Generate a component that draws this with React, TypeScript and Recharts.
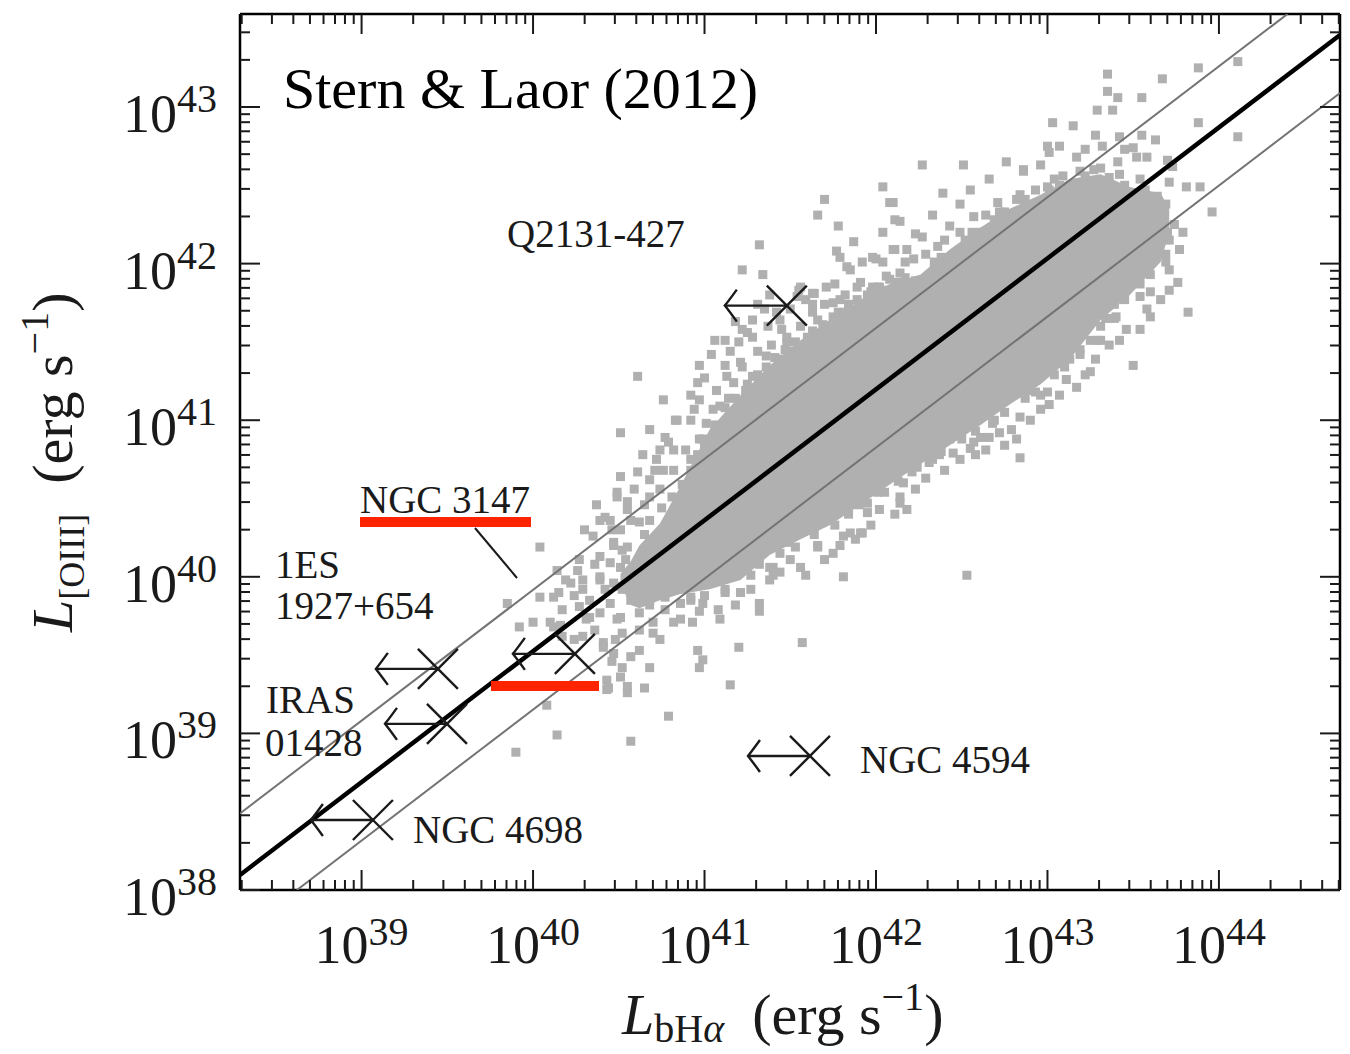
import React from 'react';
import { ComposedChart, XAxis, YAxis, Scatter, Line, Area } from 'recharts';

const W = 1350;
const H = 1054;
const PLOT = { left: 240, top: 14, right: 1340, bottom: 890 };
const INK = '#1a1a1a';
const DOT = '#b0b0b0';
const RED = '#ff2400';
const SERIF = "'Liberation Serif', 'Times New Roman', serif";

// log10 of luminance (erg/s)
const xDomain: [number, number] = [38.291, 44.706];
const yDomain: [number, number] = [38.0, 43.594];
const xDecades = [38, 39, 40, 41, 42, 43, 44];
const yDecades = [38, 39, 40, 41, 42, 43];
const minorSteps = [2, 3, 4, 5, 6, 7, 8, 9];

const withMinors = (decades: number[], dom: [number, number]) =>
  decades
    .flatMap((d) => [d, ...minorSteps.map((m) => d + Math.log10(m))])
    .filter((v) => v >= dom[0] - 1e-9 && v <= dom[1] + 1e-9);

const xTicks = withMinors(xDecades, xDomain);
const yTicks = withMinors(yDecades, yDomain);

// fit lines
const bestFit = [
  { x: 38.291, y: 38.096 },
  { x: 44.706, y: 43.46 },
];
const upperBound = [
  { x: 38.291, y: 38.489 },
  { x: 44.4, y: 43.594 },
];
const lowerBound = [
  { x: 38.623, y: 38.0 },
  { x: 44.706, y: 43.089 },
];

// dense, saturated part of the sample: [x, low y, high y]
const coreRows: [number, number, number][] = [
  [40.51, 39.95, 40.02],
  [40.57, 39.82, 40.1],
  [40.62, 39.8, 40.2],
  [40.74, 39.85, 40.34],
  [40.86, 39.89, 40.58],
  [41.03, 39.92, 40.94],
  [41.21, 39.98, 41.16],
  [41.38, 40.14, 41.35],
  [41.56, 40.24, 41.51],
  [41.73, 40.33, 41.64],
  [41.91, 40.46, 41.77],
  [42.08, 40.59, 41.87],
  [42.26, 40.72, 41.93],
  [42.43, 40.84, 42.09],
  [42.61, 40.97, 42.23],
  [42.78, 41.1, 42.35],
  [42.96, 41.23, 42.44],
  [43.13, 41.39, 42.54],
  [43.31, 41.64, 42.57],
  [43.48, 41.8, 42.49],
  [43.66, 42.01, 42.45],
  [43.71, 42.2, 42.35],
];

// individual objects around the dense core
const cloudPoints: [number, number][] = [
  [40.51, 40.92], [40.77, 40.89], [40.64, 40.78], [40.72, 40.75], [40.51, 40.64], [40.61, 40.67], [40.68, 40.62],
  [40.37, 40.46], [40.49, 40.54], [40.55, 40.48], [40.42, 40.38], [40.35, 40.26], [40.47, 40.22], [40.39, 40.13],
  [40.52, 40.17], [40.62, 40.35], [40.68, 40.51], [40.76, 40.68], [40.82, 40.81], [40.04, 40.19], [40.26, 40.04],
  [40.15, 39.9], [40.39, 40.0], [40.49, 39.94], [40.45, 39.83], [40.57, 39.85], [40.17, 39.79], [40.12, 39.68],
  [40.33, 39.74], [40.51, 39.74], [40.62, 39.77], [40.7, 39.71], [40.52, 39.64], [40.7, 39.64], [40.41, 39.55],
  [40.62, 39.53], [40.46, 39.46], [40.57, 39.49], [40.68, 39.42], [40.51, 39.36], [40.44, 39.29], [40.55, 39.26],
  [40.65, 39.29], [40.08, 39.18], [40.79, 39.11], [40.14, 38.99], [40.57, 38.95], [41.15, 39.31], [41.2, 39.55],
  [40.96, 39.53], [40.99, 39.47], [40.97, 39.42], [40.82, 39.71], [40.93, 39.71], [41.09, 39.73], [40.99, 39.83],
  [40.86, 39.83], [41.12, 39.9], [41.21, 39.9], [41.32, 39.83], [41.32, 39.78], [41.4, 40.06], [41.4, 40.01],
  [41.57, 39.58], [41.66, 40.2], [41.75, 40.15],
  [39.85, 39.83], [39.9, 38.88], [39.92, 39.68], [40.0, 39.71], [40.1, 39.71], [40.17, 39.62], [40.29, 39.62],
  [40.41, 39.58], [40.47, 39.51], [40.52, 39.42], [40.43, 39.34], [40.55, 39.3], [40.43, 39.28], [40.04, 39.87],
  [40.12, 39.87], [40.27, 39.81], [40.31, 39.73], [40.39, 39.77], [40.49, 39.73], [40.39, 39.98], [40.47, 39.96],
  [40.52, 39.92], [40.29, 39.98], [40.22, 39.96], [40.51, 40.06], [40.45, 40.09], [40.55, 40.19], [40.47, 40.2],
  [40.51, 40.3], [40.55, 40.43], [40.49, 40.51], [40.45, 40.36], [40.29, 39.92], [40.14, 40.04],
  [41.06, 41.51], [41.15, 41.44], [41.0, 41.27], [41.22, 41.34], [41.31, 41.44], [41.25, 41.56], [41.37, 41.6],
  [41.42, 41.69], [41.48, 41.53], [41.56, 41.6], [41.62, 41.47], [41.55, 41.83], [41.64, 41.81], [41.71, 41.85],
  [41.79, 41.77], [41.89, 41.85], [42.01, 41.85], [41.75, 41.66], [41.07, 41.19], [41.17, 41.24], [41.28, 41.28],
  [41.09, 41.09], [41.21, 41.07], [41.01, 40.98], [41.13, 40.94], [41.03, 40.86], [41.36, 41.34], [41.46, 41.39],
  [41.52, 41.26], [41.42, 41.21], [41.32, 41.15], [41.25, 40.96],
  [42.14, 40.51], [42.18, 40.43], [41.91, 40.28], [41.81, 40.26], [41.66, 40.19], [41.56, 40.06], [41.44, 40.03],
  [41.38, 40.06], [41.81, 40.0], [42.53, 40.01], [42.06, 40.62], [42.24, 40.7], [42.33, 40.75], [42.45, 40.79],
  [42.57, 40.86], [42.66, 40.89], [41.95, 40.41], [41.71, 40.41], [41.62, 40.32], [41.48, 40.22], [41.32, 40.13],
  [41.25, 40.06],
  [42.27, 42.63], [42.51, 42.63], [42.76, 42.65], [42.04, 42.49], [42.39, 42.45], [42.55, 42.47], [42.66, 42.54],
  [42.86, 42.59], [42.1, 42.39], [42.33, 42.31], [42.14, 42.27], [42.04, 42.2], [41.87, 42.14], [42.27, 42.17],
  [42.1, 42.09], [42.18, 42.09], [41.92, 42.01], [42.0, 42.03], [42.36, 42.11], [42.43, 42.24], [42.57, 42.3],
  [42.71, 42.39], [42.82, 42.41], [43.0, 42.49], [43.09, 42.56], [43.01, 42.71], [43.17, 42.68], [43.27, 42.6],
  [43.41, 42.65], [43.52, 42.68], [41.85, 41.96], [41.91, 41.88], [42.06, 41.92], [41.89, 41.77], [42.01, 41.79],
  [42.49, 42.09], [42.61, 42.2], [42.66, 42.09], [42.22, 42.03], [42.36, 41.98], [42.14, 41.94],
  [43.5, 41.35], [43.25, 41.31], [43.17, 41.21], [43.11, 41.26], [43.01, 41.37], [43.19, 41.45], [43.29, 41.51],
  [43.46, 41.58], [43.4, 41.66], [43.54, 41.79], [43.58, 41.71], [42.96, 41.07], [42.84, 41.02], [42.72, 40.92],
  [42.61, 40.89], [42.82, 40.88], [42.9, 41.19], [43.0, 41.18], [43.06, 41.47], [43.13, 41.39],
  [43.35, 43.21], [43.67, 43.18], [43.35, 43.1], [43.41, 43.06], [43.55, 43.06], [43.29, 42.98], [43.38, 42.98],
  [43.88, 43.25], [44.11, 43.29], [43.03, 42.9], [43.15, 42.88], [43.28, 42.82], [43.42, 42.81], [43.55, 42.82],
  [43.63, 42.79], [43.88, 42.9], [44.11, 42.81], [43.0, 42.75], [43.07, 42.75], [43.32, 42.75], [43.45, 42.73],
  [43.5, 42.74], [42.86, 42.6], [43.58, 42.68], [43.7, 42.66], [43.73, 42.62], [43.71, 42.52], [43.62, 42.41],
  [43.81, 42.49], [43.89, 42.49], [43.96, 42.33], [43.79, 42.2], [43.7, 42.2], [43.64, 42.09], [43.77, 42.09],
  [43.69, 42.01], [43.76, 41.88], [43.6, 41.82], [43.82, 41.69], [43.31, 41.6], [42.97, 41.53], [43.13, 41.5],
  [43.71, 41.96], [43.42, 41.78], [43.39, 41.65], [43.31, 41.51],
  [42.96, 41.16], [42.84, 40.76], [42.68, 40.98], [42.55, 40.82], [42.43, 40.88], [42.37, 40.78], [42.31, 40.76],
  [42.22, 40.75], [42.14, 40.73], [42.16, 40.6], [42.01, 40.54], [41.95, 40.56], [41.89, 40.51], [41.9, 40.46],
  [42.14, 40.47], [41.92, 40.28], [41.85, 40.28],
  [41.7, 42.41], [41.66, 42.31], [41.78, 42.24], [41.77, 42.08], [41.79, 42.04], [41.83, 41.98], [41.98, 42.04],
  [42.04, 42.01], [42.11, 42.09], [41.32, 42.12], [41.22, 41.96], [41.34, 41.93], [41.56, 41.85], [41.63, 41.81],
  [41.76, 41.87], [41.98, 41.85], [42.08, 41.9], [42.08, 42.39], [42.11, 42.28], [40.61, 41.28], [40.96, 41.24],
  [41.31, 41.74], [41.22, 41.58], [41.28, 41.53], [41.44, 41.64], [41.54, 41.79], [41.63, 41.69], [41.75, 41.75],
  [41.83, 41.69], [41.92, 41.73], [42.02, 41.71], [41.36, 41.41], [41.48, 41.5], [41.6, 41.53], [41.21, 41.37],
  [41.13, 41.28],
  [40.76, 41.13], [40.84, 41.0], [40.68, 40.94], [40.94, 41.07], [40.79, 40.86], [40.92, 40.75], [40.97, 40.88],
  // upper-left fringe
  [41.04, 41.42], [41.12, 41.35], [41.2, 41.5], [41.28, 41.64], [41.35, 41.71], [41.39, 41.48], [41.5, 41.71],
  [41.59, 41.77], [41.66, 41.64], [41.7, 41.74], [41.82, 41.8], [41.95, 41.8], [42.05, 41.83], [42.13, 41.88],
  [41.14, 41.14], [41.05, 41.07], [41.24, 41.19], [41.32, 41.26], [41.43, 41.32], [41.51, 41.44], [41.6, 41.37],
  [41.69, 41.48], [41.79, 41.58], [41.88, 41.64], [40.97, 41.13], [40.92, 41.0], [41.0, 40.84], [40.89, 40.81],
  [40.82, 40.68], [40.74, 40.56],
  [41.18, 41.63], [41.38, 41.8], [41.45, 41.58], [41.63, 41.74], [41.12, 41.51], [40.97, 41.35], [40.92, 41.16],
  [40.83, 41.0], [40.74, 40.81],
  [40.68, 40.36], [40.75, 40.44], [40.81, 40.51], [40.87, 40.59], [40.71, 40.24], [40.79, 40.31], [40.86, 40.4],
  [40.93, 40.49], [40.65, 40.14], [40.74, 40.11], [40.83, 40.2], [40.92, 40.3], [40.97, 40.43], [40.96, 40.59],
  [41.02, 40.68],
  // lower-right fringe
  [41.38, 39.98], [41.5, 40.11], [41.59, 40.01], [41.7, 40.11], [41.79, 40.2], [41.88, 40.24], [41.97, 40.33],
  [42.02, 40.43], [42.11, 40.4], [42.23, 40.56], [42.29, 40.63], [42.4, 40.68], [42.49, 40.75], [42.58, 40.78],
  [42.64, 40.81], [42.75, 40.84], [42.79, 40.94], [42.9, 41.0], [43.01, 41.1], [43.07, 41.16], [43.22, 41.29],
  [43.28, 41.39], [43.36, 41.48], [43.42, 41.51], [43.54, 41.58], [43.6, 41.66], [43.66, 41.77], [43.71, 41.83],
  [41.27, 39.92], [41.18, 39.82], [41.08, 39.79], [40.97, 39.78], [40.92, 39.85],
  // low-luminosity tail
  [40.3, 40.3], [40.39, 40.36], [40.46, 40.3], [40.57, 40.36], [40.65, 40.27], [40.74, 40.2], [40.36, 40.08],
  [40.27, 40.11], [40.19, 39.98], [40.24, 39.88], [40.33, 39.85], [40.42, 39.92], [40.59, 39.95], [40.68, 39.85],
  [40.77, 39.79], [40.86, 39.73], [40.16, 39.69], [40.24, 39.6], [40.36, 39.66], [40.48, 39.6], [40.62, 39.66],
  [40.74, 39.6], [40.54, 40.11], [40.65, 40.46], [40.59, 40.56], [40.71, 40.68],
  // upper edge of the core
  [42.17, 42.01], [42.29, 42.06], [42.4, 42.15], [42.49, 42.2], [42.64, 42.31], [42.72, 42.33], [42.84, 42.44],
  [42.93, 42.47], [43.04, 42.54], [43.19, 42.59], [43.31, 42.61], [43.42, 42.57], [43.54, 42.54], [42.23, 42.19],
  [42.49, 42.38], [42.96, 42.63], [43.22, 42.73],
  [40.92, 40.68], [40.96, 40.78], [40.99, 40.88], [41.06, 40.97], [41.12, 41.08], [41.18, 41.14], [41.25, 41.23],
  [41.31, 41.29], [41.41, 41.4], [41.47, 41.45], [41.53, 41.5], [41.63, 41.57], [41.69, 41.61], [41.78, 41.69],
  [41.84, 41.74], [41.97, 41.82], [42.02, 41.85], [42.17, 41.91], [42.23, 41.89], [42.34, 42.01], [42.38, 42.04],
  [42.52, 42.15], [42.56, 42.2], [42.69, 42.28], [42.75, 42.33], [42.87, 42.41], [43.01, 42.47], [43.07, 42.5],
  [43.22, 42.56], [43.36, 42.55], [43.45, 42.5], [43.57, 42.47], [43.64, 42.43],
  // lower edge of the core
  [40.68, 39.82], [40.77, 39.87], [40.92, 39.87], [41.0, 39.88], [41.12, 39.92], [41.27, 40.01], [41.32, 40.08],
  [41.44, 40.15], [41.53, 40.19], [41.64, 40.27], [41.76, 40.33], [41.84, 40.4], [41.95, 40.47], [42.05, 40.54],
  [42.13, 40.61], [42.21, 40.67], [42.31, 40.73], [42.38, 40.8], [42.5, 40.88], [42.58, 40.93], [42.69, 41.0],
  [42.75, 41.05], [42.87, 41.14], [42.93, 41.18], [43.04, 41.29], [43.1, 41.34], [43.19, 41.42], [43.25, 41.51],
  [43.34, 41.65], [43.39, 41.74], [43.45, 41.77], [43.54, 41.87], [43.6, 41.93], [43.69, 42.06], [43.71, 42.15],
  [43.74, 42.25], [43.69, 42.38],
];

// objects with upper limits on the broad Halpha line
const upperLimits = [
  { name: 'Q2131-427', x: 41.48, y: 41.732 },
  { name: '1ES 1927+654', x: 39.445, y: 39.412 },
  { name: 'IRAS 01428', x: 39.498, y: 39.061 },
  { name: 'NGC 3147', x: 40.244, y: 39.508 },
  { name: 'NGC 4698', x: 39.066, y: 38.447 },
  { name: 'NGC 4594', x: 41.615, y: 38.856 },
];

const coreBand = coreRows.map(([x, lo, hi]) => ({ x, band: [lo, hi] }));
const cloud = cloudPoints.map(([x, y]) => ({ x, y }));

const isMajor = (v: number) => Math.abs(v - Math.round(v)) < 1e-6;

const BottomTick = (p: any) => {
  const v = p.payload.value;
  const major = isMajor(v);
  return (
    <g>
      <line x1={p.x} x2={p.x} y1={PLOT.bottom} y2={PLOT.bottom - (major ? 20 : 10)} stroke={INK} strokeWidth={2} />
      {major && (
        <text x={p.x} y={PLOT.bottom + 73} textAnchor="middle" fontFamily={SERIF} fill={INK}>
          <tspan fontSize={54}>10</tspan>
          <tspan fontSize={40} dy={-18}>{Math.round(v)}</tspan>
        </text>
      )}
    </g>
  );
};

const TopTick = (p: any) => {
  const major = isMajor(p.payload.value);
  return (
    <line x1={p.x} x2={p.x} y1={PLOT.top} y2={PLOT.top + (major ? 20 : 10)} stroke={INK} strokeWidth={2} />
  );
};

const LeftTick = (p: any) => {
  const v = p.payload.value;
  const major = isMajor(v);
  return (
    <g>
      <line x1={PLOT.left} x2={PLOT.left + (major ? 20 : 10)} y1={p.y} y2={p.y} stroke={INK} strokeWidth={2} />
      {major && (
        <text x={PLOT.left - 23} y={p.y + 25} textAnchor="end" fontFamily={SERIF} fill={INK}>
          <tspan fontSize={54}>10</tspan>
          <tspan fontSize={40} dy={-20}>{Math.round(v)}</tspan>
        </text>
      )}
    </g>
  );
};

const RightTick = (p: any) => {
  const major = isMajor(p.payload.value);
  return (
    <line x1={PLOT.right} x2={PLOT.right - (major ? 20 : 10)} y1={p.y} y2={p.y} stroke={INK} strokeWidth={2} />
  );
};

const Square = (p: any) => <rect x={p.cx - 4.5} y={p.cy - 4.5} width={9} height={9} fill={DOT} />;

const LimitMarker = (p: any) => {
  const { cx, cy } = p;
  const a = 20;
  const tx = cx - 62;
  return (
    <g stroke={INK} strokeWidth={2.4} fill="none">
      <line x1={cx - a} y1={cy - a} x2={cx + a} y2={cy + a} />
      <line x1={cx - a} y1={cy + a} x2={cx + a} y2={cy - a} />
      <line x1={tx} y1={cy} x2={cx} y2={cy} />
      <path d={`M${tx + 12},${cy - 16} Q${tx + 4},${cy - 5} ${tx},${cy} Q${tx + 4},${cy + 5} ${tx + 12},${cy + 16}`} />
    </g>
  );
};

const axisLine = { stroke: '#000', strokeWidth: 2.5 };

export default function App() {
  return (
    <div style={{ position: 'relative', width: W, height: H, background: '#fff' }}>
      <style>{'body{margin:0;background:#fff}'}</style>
      <ComposedChart
        width={W}
        height={H}
        margin={{ top: PLOT.top - 1, right: W - PLOT.right - 1, bottom: H - PLOT.bottom - 1, left: PLOT.left - 1 }}
      >
        <XAxis xAxisId={0} type="number" dataKey="x" orientation="bottom" domain={xDomain} allowDataOverflow
          ticks={xTicks} interval={0} height={1} tickLine={false} tickSize={0} tick={BottomTick} axisLine={axisLine} />
        <XAxis xAxisId="top" type="number" dataKey="x" orientation="top" domain={xDomain} allowDataOverflow
          ticks={xTicks} interval={0} height={1} tickLine={false} tickSize={0} tick={TopTick} axisLine={axisLine} />
        <YAxis yAxisId={0} type="number" dataKey="y" orientation="left" domain={yDomain} allowDataOverflow
          ticks={yTicks} interval={0} width={1} tickLine={false} tickSize={0} tick={LeftTick} axisLine={axisLine} />
        <YAxis yAxisId="right" type="number" dataKey="y" orientation="right" domain={yDomain} allowDataOverflow
          ticks={yTicks} interval={0} width={1} tickLine={false} tickSize={0} tick={RightTick} axisLine={axisLine} />

        <Area data={coreBand} dataKey="band" type="linear" stroke="none" fill={DOT} fillOpacity={1}
          isAnimationActive={false} zIndex={100} />
        <Scatter data={cloud} shape={Square} isAnimationActive={false} zIndex={150} />
        <Line data={upperBound} dataKey="y" type="linear" stroke="#737373" strokeWidth={2} dot={false}
          activeDot={false} isAnimationActive={false} zIndex={700} />
        <Line data={lowerBound} dataKey="y" type="linear" stroke="#737373" strokeWidth={2} dot={false}
          activeDot={false} isAnimationActive={false} zIndex={700} />
        <Line data={bestFit} dataKey="y" type="linear" stroke="#000" strokeWidth={4.5} dot={false}
          activeDot={false} isAnimationActive={false} zIndex={710} />
        <Scatter data={upperLimits} shape={LimitMarker} isAnimationActive={false} zIndex={800} />
      </ComposedChart>

      <svg width={W} height={H} style={{ position: 'absolute', left: 0, top: 0, pointerEvents: 'none' }}
        fontFamily={SERIF}>
        <text x={283} y={108} fontSize={58} fill="#000">{'Stern & Laor (2012)'}</text>
        <g fill={INK} fontSize={39}>
          <text x={507} y={247}>Q2131-427</text>
          <text x={360} y={513}>NGC 3147</text>
          <text x={275} y={578}>1ES</text>
          <text x={275} y={619}>1927+654</text>
          <text x={266} y={713}>IRAS</text>
          <text x={265} y={756}>01428</text>
          <text x={413} y={843}>NGC 4698</text>
          <text x={860} y={773}>NGC 4594</text>
        </g>
        <line x1={475} y1={528} x2={517} y2={578} stroke={INK} strokeWidth={2} />
        <rect x={360} y={517} width={171} height={10} fill={RED} />
        <rect x={491} y={681} width={108} height={10} fill={RED} />

        <text x={622} y={1034} fontSize={58} fill={INK}>
          <tspan fontStyle="italic">L</tspan>
          <tspan fontSize={40} dy={8}>bH</tspan>
          <tspan fontSize={40} fontStyle="italic">α</tspan>
          <tspan dy={-8} dx={28}>(erg s</tspan>
          <tspan fontSize={40} dy={-24}>−1</tspan>
          <tspan dy={24}>)</tspan>
        </text>
        <text transform="translate(72,632) rotate(-90)" fontSize={58} fill={INK}>
          <tspan fontStyle="italic">L</tspan>
          <tspan fontSize={36} dy={12}>[OIII]</tspan>
          <tspan dy={-12} dx={30}>(erg s</tspan>
          <tspan fontSize={40} dy={-24}>−1</tspan>
          <tspan dy={24}>)</tspan>
        </text>
      </svg>
    </div>
  );
}
